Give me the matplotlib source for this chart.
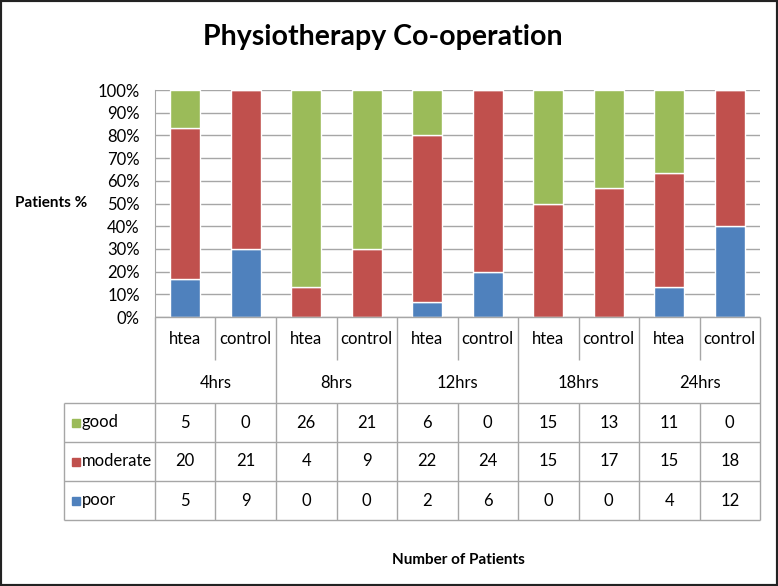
import matplotlib
matplotlib.use("Agg")
import matplotlib.pyplot as plt
import numpy as np
from matplotlib.patches import Rectangle

plt.rcParams['font.family'] = ['Lato', 'DejaVu Sans']

times = ['4hrs', '8hrs', '12hrs', '18hrs', '24hrs']
groups = ['htea', 'control']
good = [5, 0, 26, 21, 6, 0, 15, 13, 11, 0]
moderate = [20, 21, 4, 9, 22, 24, 15, 17, 15, 18]
poor = [5, 9, 0, 0, 2, 6, 0, 0, 4, 12]
series_names = ['good', 'moderate', 'poor']
colors = {'good': '#9BBB59', 'moderate': '#C0504D', 'poor': '#4F81BD'}
yticks = [0, 10, 20, 30, 40, 50, 60, 70, 80, 90, 100]

W, H = 778, 586
fig = plt.figure(figsize=(W / 100, H / 100), dpi=100)

# plot area in pixels
px_left, px_right, px_top, px_bottom = 155, 760, 90, 317
ax = fig.add_axes([px_left / W, 1 - px_bottom / H,
                   (px_right - px_left) / W, (px_bottom - px_top) / H])

n = len(good)
x = np.arange(n)
totals = np.array(good) + np.array(moderate) + np.array(poor)
p_poor = np.array(poor) / totals * 100
p_mod = np.array(moderate) / totals * 100
p_good = np.array(good) / totals * 100

grid_c = '#A6A6A6'
ax.bar(x, p_poor, width=0.5, color=colors['poor'], edgecolor='white', lw=1, zorder=3)
ax.bar(x, p_mod, width=0.5, bottom=p_poor, color=colors['moderate'], edgecolor='white', lw=1, zorder=3)
ax.bar(x, p_good, width=0.5, bottom=p_poor + p_mod, color=colors['good'], edgecolor='white', lw=1, zorder=3)

ax.set_xlim(-0.5, n - 0.5)
ax.set_ylim(0, 100)
ax.set_yticks(yticks)
ax.set_yticklabels([f'{v}%' for v in yticks], fontsize=12)
ax.set_xticks([])
ax.yaxis.grid(True, color=grid_c, lw=1)
ax.set_axisbelow(True)
ax.tick_params(axis='y', length=0, pad=11)
for s in ['top', 'right', 'bottom']:
    ax.spines[s].set_visible(False)
ax.spines['left'].set_color(grid_c)

# table below the plot, sharing the same x scale
unit = (px_right - px_left) / n
tab_left_px, tab_bottom_px = 64, 520
tax = fig.add_axes([tab_left_px / W, 1 - tab_bottom_px / H,
                    (px_right - tab_left_px) / W, (tab_bottom_px - px_bottom) / H])
x0 = -0.5 - (px_left - tab_left_px) / unit
tax.set_xlim(x0, n - 0.5)
tax.set_ylim(tab_bottom_px - px_bottom, 0)
tax.axis('off')

r1, r2 = 43, 86  # sub-group row, time row
row_h = 39
lw = 1
fs = 12

def vline(xv, y1, y2):
    tax.plot([xv, xv], [y1, y2], color=grid_c, lw=lw, solid_capstyle='butt', clip_on=False)

def hline(xa, xb, yv):
    tax.plot([xa, xb], [yv, yv], color=grid_c, lw=lw, solid_capstyle='butt', clip_on=False)

hline(-0.5, n - 0.5, 0)
vline(-0.5, 0, r2 + 3 * row_h)
for i in range(n):
    xb = i + 0.5
    if i % 2 == 1:
        vline(xb, 0, r2 + 3 * row_h)
    else:
        vline(xb, 0, r1)
        vline(xb, r2, r2 + 3 * row_h)
vline(x0, r2, r2 + 3 * row_h)
for k in range(4):
    hline(x0, n - 0.5, r2 + k * row_h)

for i in range(n):
    tax.text(i, r1 / 2 + 1, groups[i % 2], ha='center', va='center', fontsize=fs)
for j, t in enumerate(times):
    tax.text(2 * j + 0.5, (r1 + r2) / 2 + 1, t, ha='center', va='center', fontsize=fs)

rows = [good, moderate, poor]
for k, (name, vals) in enumerate(zip(series_names, rows)):
    yc = r2 + k * row_h + row_h / 2
    sq = 8 / unit
    tax.add_patch(Rectangle((x0 + 8 / unit, yc - 4), sq, 8,
                            color=colors[name], clip_on=False))
    tax.text(x0 + 18 / unit, yc, name, ha='left', va='center', fontsize=fs)
    for i, v in enumerate(vals):
        tax.text(i, yc, str(v), ha='center', va='center', fontsize=fs)

fig.text(383 / W, 1 - 37 / H, 'Physiotherapy Co-operation', ha='center', va='center',
         fontsize=20.5, fontweight='bold')
fig.text(15 / W, 1 - 203 / H, 'Patients %', ha='left', va='center',
         fontsize=11, fontweight='bold')
fig.text(458 / W, 1 - 560 / H, 'Number of Patients', ha='center', va='center',
         fontsize=11, fontweight='bold')

fig.add_artist(Rectangle((0, 0), 1, 1, transform=fig.transFigure, fill=False,
                         lw=3, ec='#222222'))

fig.savefig('out.png', dpi=100)
